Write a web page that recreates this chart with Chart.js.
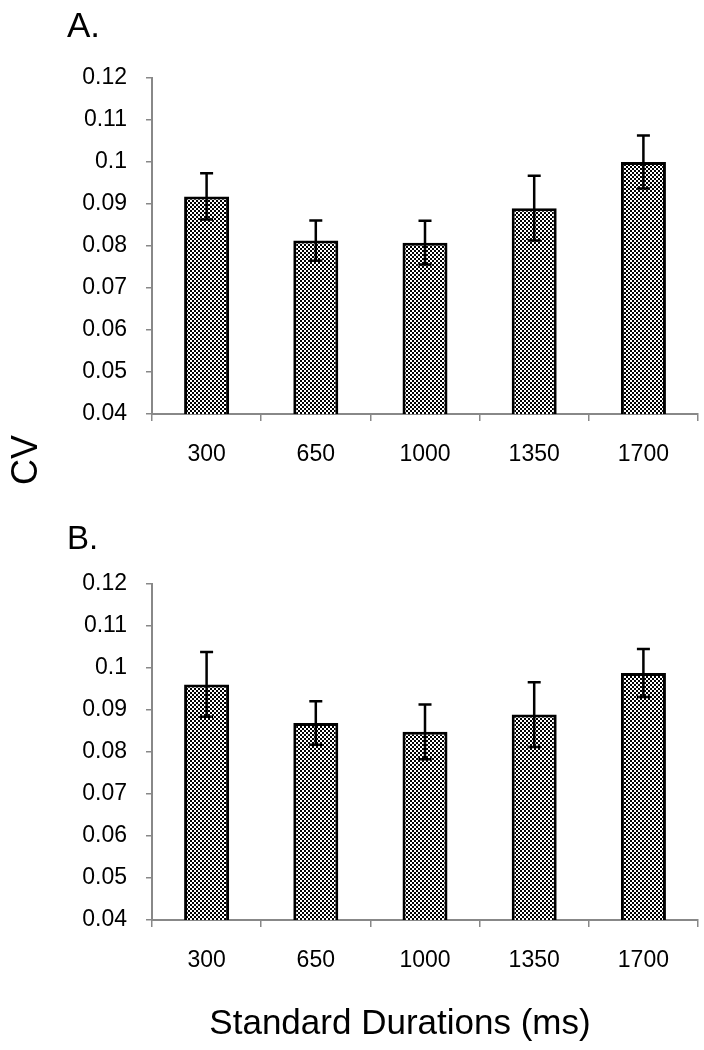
<!DOCTYPE html>
<html>
<head>
<meta charset="utf-8">
<script src="https://cdn.jsdelivr.net/npm/chart.js@4"></script>
<style>
body { margin: 0; background: #fff; width: 704px; height: 1050px; position: relative; overflow: hidden; font-family: "Liberation Sans", Arial, sans-serif; }
canvas { position: absolute; left: 0; }
.lbl { position: absolute; color: #000; white-space: nowrap; line-height: 1; }
</style>
</head>
<body>
<canvas id="chartA" width="704" height="500" style="top:0"></canvas>
<canvas id="chartB" width="704" height="500" style="top:506px"></canvas>
<div class="lbl" style="left:67px;top:7px;font-size:35px">A.</div>
<div class="lbl" style="left:67px;top:521px;font-size:33px">B.</div>
<div class="lbl" style="left:25px;top:460px;font-size:36px;transform:translate(-50%,-50%) rotate(-90deg)">CV</div>
<div class="lbl" style="left:400px;top:1004px;font-size:35px;transform:translateX(-50%)">Standard Durations (ms)</div>
<script>
const durations = ['300', '650', '1000', '1350', '1700'];

// panel A
const cvA = [0.0918, 0.0813, 0.0808, 0.0890, 0.1000];
const errA = [0.0055, 0.0048, 0.0052, 0.0077, 0.0063];

// panel B
const cvB = [0.0961, 0.0869, 0.0848, 0.0889, 0.0988];
const errB = [0.0077, 0.0052, 0.0065, 0.0077, 0.0057];

const yMin = 0.04, yMax = 0.12, yStep = 0.01;

function checkerPattern() {
    const pc = document.createElement('canvas');
    pc.width = 4; pc.height = 4;
    const p = pc.getContext('2d');
    p.fillStyle = '#fff';
    p.fillRect(0, 0, 4, 4);
    p.fillStyle = '#000';
    p.fillRect(0, 0, 2, 2);
    p.fillRect(2, 2, 2, 2);
    return p.createPattern(pc, 'repeat');
}

const errorBars = {
    id: 'errorBars',
    afterDatasetsDraw(chart) {
        const ctx = chart.ctx;
        const yScale = chart.scales.y;
        chart.data.datasets.forEach((ds, di) => {
            const meta = chart.getDatasetMeta(di);
            meta.data.forEach((bar, i) => {
                const hi = yScale.getPixelForValue(ds.data[i] + ds.errors[i]);
                const lo = yScale.getPixelForValue(ds.data[i] - ds.errors[i]);
                ctx.save();
                ctx.strokeStyle = '#000';
                ctx.lineWidth = 2.5;
                ctx.beginPath();
                ctx.moveTo(bar.x, hi); ctx.lineTo(bar.x, lo);
                ctx.moveTo(bar.x - 6.5, hi); ctx.lineTo(bar.x + 6.5, hi);
                ctx.moveTo(bar.x - 6.5, lo); ctx.lineTo(bar.x + 6.5, lo);
                ctx.stroke();
                ctx.restore();
            });
        });
    }
};

function makeChart(id, values, errors) {
    const ctx = document.getElementById(id).getContext('2d');
    return new Chart(ctx, {
        type: 'bar',
        data: {
            labels: durations,
            datasets: [{
                data: values,
                errors: errors,
                backgroundColor: checkerPattern(),
                borderColor: '#000',
                borderWidth: 3,
                categoryPercentage: 1,
                barPercentage: 0.412
            }]
        },
        options: {
            responsive: false,
            animation: false,
            layout: { padding: { top: 78, right: 6, bottom: 0, left: 0 } },
            plugins: { legend: { display: false }, tooltip: { enabled: false } },
            scales: {
                x: {
                    afterFit: s => { s.height = 86; },
                    grid: { drawOnChartArea: false, drawTicks: true, tickLength: 7, color: '#888', lineWidth: 1.5, offset: true },
                    border: { color: '#888', width: 2 },
                    ticks: { color: '#000', padding: 20, font: { family: 'Liberation Sans', size: 23 } }
                },
                y: {
                    min: yMin,
                    max: yMax,
                    afterFit: s => { s.width = 152; },
                    grid: { drawOnChartArea: false, drawTicks: true, tickLength: 6, color: '#888', lineWidth: 1.5 },
                    border: { color: '#888', width: 2 },
                    ticks: {
                        stepSize: yStep,
                        color: '#000',
                        padding: 19,
                        font: { family: 'Liberation Sans', size: 23 },
                        callback: v => String(Number(v.toFixed(2)))
                    }
                }
            }
        },
        plugins: [errorBars]
    });
}

makeChart('chartA', cvA, errA);
makeChart('chartB', cvB, errB);
</script>
</body>
</html>
